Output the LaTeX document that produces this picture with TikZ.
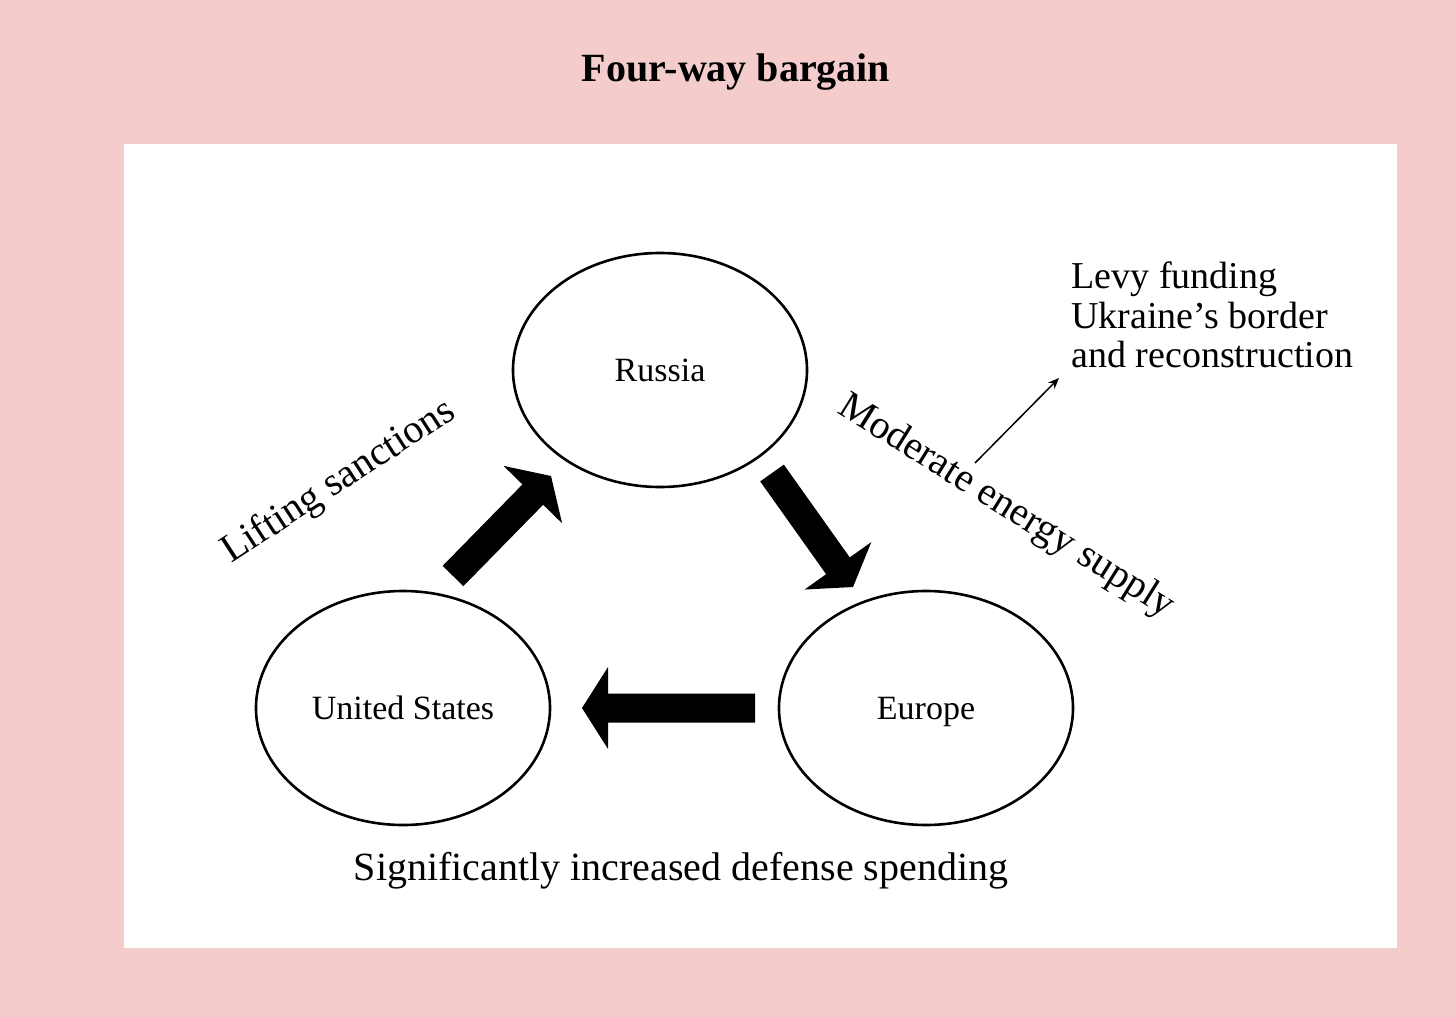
\documentclass[tikz,border=0pt]{standalone}
\usepackage{fontspec}
\setmainfont{Liberation Serif}
\usetikzlibrary{shapes.geometric,calc,arrows.meta}
\definecolor{bgpink}{RGB}{244,204,204}
\newcommand\blockarrow[3]{%
  \coordinate (#3h) at ($(#2)!13pt!(#1)$);
  \fill[black] ($(#1)!7.25pt!90:(#2)$) -- ($(#3h)!7.25pt!90:(#2)$)
    -- ($(#3h)!20.5pt!90:(#2)$) -- (#2) -- ($(#3h)!20.5pt!-90:(#2)$)
    -- ($(#3h)!7.25pt!-90:(#2)$) -- ($(#1)!7.25pt!-90:(#2)$) -- cycle;
}
\begin{document}
\begin{tikzpicture}[x=0.5pt,y=-0.5pt,
  party/.style={ellipse, draw, line width=1.3pt, minimum width=147pt, minimum height=117pt, font=\fontsize{17}{20}\selectfont, inner sep=0pt, text depth=0pt},
  label/.style={font=\fontsize{20}{24}\selectfont, inner sep=0pt}]
\fill[bgpink] (0,0) rectangle (1456,1017);
\fill[white] (124,144) rectangle (1397,948);
\useasboundingbox (0,0) rectangle (1456,1017);

\node[font=\bfseries\fontsize{20}{24}\selectfont] (title) at (736,72) {Four-way bargain};

\node[party] (russia) at (660,370) {Russia};
\node[party] (us) at (403,708) {United States};
\node[party] (europe) at (926,708) {Europe};

\coordinate (a1s) at (453,576);
\coordinate (a1e) at (551,476);
\coordinate (a2s) at (772,473);
\coordinate (a2e) at (853,587);
\coordinate (a3s) at (755,708);
\coordinate (a3e) at (582,708);
\blockarrow{a1s}{a1e}{ba}
\blockarrow{a2s}{a2e}{bb}
\blockarrow{a3s}{a3e}{bc}

\node[label, rotate=33] (lift) at (339,482) {Lifting sanctions};
\node[label, rotate=-32] (energy) at (1006,507) {Moderate energy supply};
\node[label] (defense) at (681,871) {Significantly increased defense spending};

\node[font=\fontsize{19}{19.75}\selectfont, align=left, anchor=west, inner sep=0pt] (levy) at (1071,315) {Levy funding\\Ukraine’s border\\and reconstruction};

\coordinate (t1) at (975,463);
\coordinate (t2) at (1059,378);
\draw[line width=0.75pt, -{Stealth[length=5.5pt,width=4.5pt]}] (t1) -- (t2);
\end{tikzpicture}
\end{document}
